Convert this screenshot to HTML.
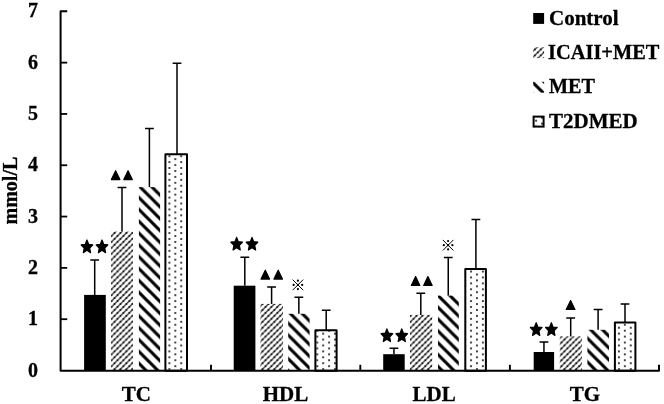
<!DOCTYPE html><html><head><meta charset="utf-8"><style>html,body{margin:0;padding:0;background:#fff;}svg{display:block;will-change:transform;}text{font-family:"Liberation Serif",serif;font-weight:bold;}</style></head><body>
<svg width="664" height="404" viewBox="0 0 664 404">
<defs>
<pattern id="pA" patternUnits="userSpaceOnUse" width="5.92" height="5.92" x="0" y="0" patternTransform="translate(2.075,2.075)"><path d="M-5.92,5.92 L5.92,-5.92 M0,11.84 L11.84,0 M0,5.92 L5.92,0" stroke="#000" stroke-width="1.1" fill="none"/><circle cx="0" cy="0" r="0.9" fill="#000"/><circle cx="5.92" cy="0" r="0.9" fill="#000"/><circle cx="0" cy="5.92" r="0.9" fill="#000"/><circle cx="5.92" cy="5.92" r="0.9" fill="#000"/><circle cx="2.96" cy="2.96" r="0.9" fill="#000"/></pattern>
<pattern id="pB" patternUnits="userSpaceOnUse" width="11.84" height="11.84" x="0" y="0" patternTransform="translate(0.5,0)"><path d="M-11.84,0 L11.84,23.68 M0,-11.84 L23.68,11.84 M0,0 L11.84,11.84" stroke="#000" stroke-width="3.0" fill="none"/></pattern>
<pattern id="pC" patternUnits="userSpaceOnUse" width="11.83" height="5.915" x="3.7800000000000047" y="2.4099999999999877"><circle cx="0" cy="0" r="0.95" fill="#000"/><circle cx="11.83" cy="0" r="0.95" fill="#000"/><circle cx="0" cy="5.915" r="0.95" fill="#000"/><circle cx="11.83" cy="5.915" r="0.95" fill="#000"/><circle cx="5.915" cy="2.9575" r="0.95" fill="#000"/></pattern>
</defs>
<rect x="84.10" y="294.90" width="21.70" height="75.95" fill="#000"/>
<rect x="111.10" y="231.60" width="21.80" height="139.25" fill="url(#pA)"/>
<rect x="138.90" y="187.10" width="21.20" height="183.75" fill="url(#pB)"/>
<rect x="165.40" y="154.20" width="21.6" height="216.65" fill="url(#pC)" stroke="#000" stroke-width="2" stroke-linejoin="round"/>
<rect x="233.70" y="285.70" width="21.70" height="85.15" fill="#000"/>
<rect x="260.50" y="303.90" width="22.50" height="66.95" fill="url(#pA)"/>
<rect x="288.20" y="313.80" width="21.40" height="57.05" fill="url(#pB)"/>
<rect x="315.40" y="330.20" width="21.2" height="40.65" fill="url(#pC)" stroke="#000" stroke-width="2" stroke-linejoin="round"/>
<rect x="383.20" y="354.20" width="21.50" height="16.65" fill="#000"/>
<rect x="410.00" y="314.90" width="22.20" height="55.95" fill="url(#pA)"/>
<rect x="438.00" y="295.60" width="20.80" height="75.25" fill="url(#pB)"/>
<rect x="465.30" y="268.90" width="20.6" height="101.95" fill="url(#pC)" stroke="#000" stroke-width="2" stroke-linejoin="round"/>
<rect x="533.70" y="352.00" width="20.40" height="18.85" fill="#000"/>
<rect x="559.80" y="336.40" width="22.10" height="34.45" fill="url(#pA)"/>
<rect x="587.40" y="329.80" width="21.60" height="41.05" fill="url(#pB)"/>
<rect x="614.90" y="322.50" width="20.5" height="48.35" fill="url(#pC)" stroke="#000" stroke-width="2" stroke-linejoin="round"/>
<path d="M94.70,294.90 V260.00 M90.30,260.00 H99.10" stroke="#000" stroke-width="1.5" fill="none"/>
<path d="M122.00,231.60 V187.50 M117.60,187.50 H126.40" stroke="#000" stroke-width="1.5" fill="none"/>
<path d="M149.40,187.10 V128.60 M145.00,128.60 H153.80" stroke="#000" stroke-width="1.5" fill="none"/>
<path d="M177.00,154.20 V63.30 M172.60,63.30 H181.40" stroke="#000" stroke-width="1.5" fill="none"/>
<path d="M244.80,285.70 V257.30 M240.40,257.30 H249.20" stroke="#000" stroke-width="1.5" fill="none"/>
<path d="M271.60,303.90 V287.00 M267.20,287.00 H276.00" stroke="#000" stroke-width="1.5" fill="none"/>
<path d="M298.85,313.80 V297.30 M294.45,297.30 H303.25" stroke="#000" stroke-width="1.5" fill="none"/>
<path d="M326.20,330.20 V310.20 M321.80,310.20 H330.60" stroke="#000" stroke-width="1.5" fill="none"/>
<path d="M393.95,354.20 V348.20 M389.55,348.20 H398.35" stroke="#000" stroke-width="1.5" fill="none"/>
<path d="M420.80,314.90 V293.20 M416.40,293.20 H425.20" stroke="#000" stroke-width="1.5" fill="none"/>
<path d="M448.25,295.60 V257.50 M443.85,257.50 H452.65" stroke="#000" stroke-width="1.5" fill="none"/>
<path d="M475.90,268.90 V219.50 M471.50,219.50 H480.30" stroke="#000" stroke-width="1.5" fill="none"/>
<path d="M543.95,352.00 V342.10 M539.55,342.10 H548.35" stroke="#000" stroke-width="1.5" fill="none"/>
<path d="M570.70,336.40 V318.00 M566.30,318.00 H575.10" stroke="#000" stroke-width="1.5" fill="none"/>
<path d="M598.10,329.80 V309.50 M593.70,309.50 H602.50" stroke="#000" stroke-width="1.5" fill="none"/>
<path d="M625.00,322.50 V304.00 M620.60,304.00 H629.40" stroke="#000" stroke-width="1.5" fill="none"/>
<path d="M67.2,11.3 H60.6 V370.85 H659 V364.8" stroke="#000" stroke-width="2.0" fill="none" stroke-linejoin="round"/>
<path d="M60.6,319.19 H67.2" stroke="#000" stroke-width="1.8"/>
<path d="M60.6,267.88 H67.2" stroke="#000" stroke-width="1.8"/>
<path d="M60.6,216.57 H67.2" stroke="#000" stroke-width="1.8"/>
<path d="M60.6,165.26 H67.2" stroke="#000" stroke-width="1.8"/>
<path d="M60.6,113.95 H67.2" stroke="#000" stroke-width="1.8"/>
<path d="M60.6,62.64 H67.2" stroke="#000" stroke-width="1.8"/>
<path d="M211.0,370.85 V364.8" stroke="#000" stroke-width="1.9"/>
<path d="M360.3,370.85 V364.8" stroke="#000" stroke-width="1.9"/>
<path d="M509.9,370.85 V364.8" stroke="#000" stroke-width="1.9"/>
<text x="38.0" y="377.30" font-size="20" text-anchor="end" stroke="#000" stroke-width="0.3">0</text>
<text x="38.0" y="325.44" font-size="20" text-anchor="end" stroke="#000" stroke-width="0.3">1</text>
<text x="38.0" y="273.68" font-size="20" text-anchor="end" stroke="#000" stroke-width="0.3">2</text>
<text x="38.0" y="222.67" font-size="20" text-anchor="end" stroke="#000" stroke-width="0.3">3</text>
<text x="38.0" y="170.91" font-size="20" text-anchor="end" stroke="#000" stroke-width="0.3">4</text>
<text x="38.0" y="119.75" font-size="20" text-anchor="end" stroke="#000" stroke-width="0.3">5</text>
<text x="38.0" y="69.14" font-size="20" text-anchor="end" stroke="#000" stroke-width="0.3">6</text>
<text x="38.0" y="16.88" font-size="20" text-anchor="end" stroke="#000" stroke-width="0.3">7</text>
<text transform="translate(17.4,190.6) rotate(-90)" font-size="20" text-anchor="middle" stroke="#000" stroke-width="0.3">mmol/L</text>
<text transform="translate(136.35,400.7) scale(1.05,1)" font-size="20" text-anchor="middle" stroke="#000" stroke-width="0.3">TC</text>
<text transform="translate(285.40,400.7) scale(1.05,1)" font-size="20" text-anchor="middle" stroke="#000" stroke-width="0.3">HDL</text>
<text transform="translate(434.20,400.7) scale(1.05,1)" font-size="20" text-anchor="middle" stroke="#000" stroke-width="0.3">LDL</text>
<text transform="translate(584.90,400.7) scale(1.05,1)" font-size="20" text-anchor="middle" stroke="#000" stroke-width="0.3">TG</text>
<g transform="translate(86.95,247.0) scale(0.88,1)"><polygon points="0.00,-6.90 1.91,-2.62 6.56,-2.13 3.08,1.00 4.06,5.58 0.00,3.24 -4.06,5.58 -3.08,1.00 -6.56,-2.13 -1.91,-2.62" fill="#000" stroke="#000" stroke-width="1.4" stroke-linejoin="round"/></g>
<g transform="translate(102.0,247.0) scale(0.88,1)"><polygon points="0.00,-6.90 1.91,-2.62 6.56,-2.13 3.08,1.00 4.06,5.58 0.00,3.24 -4.06,5.58 -3.08,1.00 -6.56,-2.13 -1.91,-2.62" fill="#000" stroke="#000" stroke-width="1.4" stroke-linejoin="round"/></g>
<g transform="translate(236.65,244.35) scale(0.88,1)"><polygon points="0.00,-6.90 1.91,-2.62 6.56,-2.13 3.08,1.00 4.06,5.58 0.00,3.24 -4.06,5.58 -3.08,1.00 -6.56,-2.13 -1.91,-2.62" fill="#000" stroke="#000" stroke-width="1.4" stroke-linejoin="round"/></g>
<g transform="translate(252.0,244.35) scale(0.88,1)"><polygon points="0.00,-6.90 1.91,-2.62 6.56,-2.13 3.08,1.00 4.06,5.58 0.00,3.24 -4.06,5.58 -3.08,1.00 -6.56,-2.13 -1.91,-2.62" fill="#000" stroke="#000" stroke-width="1.4" stroke-linejoin="round"/></g>
<g transform="translate(386.9,335.9) scale(0.88,1)"><polygon points="0.00,-6.90 1.91,-2.62 6.56,-2.13 3.08,1.00 4.06,5.58 0.00,3.24 -4.06,5.58 -3.08,1.00 -6.56,-2.13 -1.91,-2.62" fill="#000" stroke="#000" stroke-width="1.4" stroke-linejoin="round"/></g>
<g transform="translate(401.75,335.9) scale(0.88,1)"><polygon points="0.00,-6.90 1.91,-2.62 6.56,-2.13 3.08,1.00 4.06,5.58 0.00,3.24 -4.06,5.58 -3.08,1.00 -6.56,-2.13 -1.91,-2.62" fill="#000" stroke="#000" stroke-width="1.4" stroke-linejoin="round"/></g>
<g transform="translate(536.2,329.7) scale(0.88,1)"><polygon points="0.00,-6.90 1.91,-2.62 6.56,-2.13 3.08,1.00 4.06,5.58 0.00,3.24 -4.06,5.58 -3.08,1.00 -6.56,-2.13 -1.91,-2.62" fill="#000" stroke="#000" stroke-width="1.4" stroke-linejoin="round"/></g>
<g transform="translate(551.35,329.7) scale(0.88,1)"><polygon points="0.00,-6.90 1.91,-2.62 6.56,-2.13 3.08,1.00 4.06,5.58 0.00,3.24 -4.06,5.58 -3.08,1.00 -6.56,-2.13 -1.91,-2.62" fill="#000" stroke="#000" stroke-width="1.4" stroke-linejoin="round"/></g>
<polygon points="111.40,179.60 119.90,179.60 115.65,170.70" fill="#000" stroke="#000" stroke-width="1.2" stroke-linejoin="round"/>
<polygon points="123.80,179.60 132.30,179.60 128.05,170.70" fill="#000" stroke="#000" stroke-width="1.2" stroke-linejoin="round"/>
<polygon points="261.05,279.10 269.55,279.10 265.30,270.20" fill="#000" stroke="#000" stroke-width="1.2" stroke-linejoin="round"/>
<polygon points="273.95,279.10 282.45,279.10 278.20,270.20" fill="#000" stroke="#000" stroke-width="1.2" stroke-linejoin="round"/>
<polygon points="411.35,285.50 419.85,285.50 415.60,276.60" fill="#000" stroke="#000" stroke-width="1.2" stroke-linejoin="round"/>
<polygon points="423.65,285.50 432.15,285.50 427.90,276.60" fill="#000" stroke="#000" stroke-width="1.2" stroke-linejoin="round"/>
<polygon points="566.25,309.50 574.95,309.50 570.60,300.60" fill="#000" stroke="#000" stroke-width="1.2" stroke-linejoin="round"/>
<path d="M292.59999999999997,279.59999999999997 L303.2,290.2 M303.2,279.59999999999997 L292.59999999999997,290.2" stroke="#000" stroke-width="1.0"/><circle cx="297.9" cy="280.7" r="1.1" fill="#000"/><circle cx="297.9" cy="289.09999999999997" r="1.1" fill="#000"/><circle cx="293.59999999999997" cy="284.9" r="1.1" fill="#000"/><circle cx="302.2" cy="284.9" r="1.1" fill="#000"/><circle cx="297.9" cy="284.9" r="1.1" fill="#000"/>
<path d="M442.8,239.89999999999998 L453.40000000000003,250.5 M453.40000000000003,239.89999999999998 L442.8,250.5" stroke="#000" stroke-width="1.0"/><circle cx="448.1" cy="241.0" r="1.1" fill="#000"/><circle cx="448.1" cy="249.39999999999998" r="1.1" fill="#000"/><circle cx="443.8" cy="245.2" r="1.1" fill="#000"/><circle cx="452.40000000000003" cy="245.2" r="1.1" fill="#000"/><circle cx="448.1" cy="245.2" r="1.1" fill="#000"/>
<rect x="533.2" y="13.0" width="10.9" height="10.9" fill="#000"/>
<rect x="533.2" y="47.2" width="10.9" height="10.9" fill="url(#pA)"/>
<rect x="533.2" y="81.8" width="10.9" height="10.9" fill="url(#pB)"/>
<rect x="533.6" y="116.6" width="10" height="10" fill="url(#pC)" stroke="#000" stroke-width="2"/>
<text transform="translate(549.0,24.50) scale(1.05,1)" font-size="20" stroke="#000" stroke-width="0.3">Control</text>
<text transform="translate(548.1,58.70) scale(1.02,1)" font-size="20" stroke="#000" stroke-width="0.3">ICAII+MET</text>
<text transform="translate(549.0,93.30) scale(1.01,1)" font-size="20" stroke="#000" stroke-width="0.3">MET</text>
<text transform="translate(549.0,127.50) scale(1.05,1)" font-size="20" stroke="#000" stroke-width="0.3">T2DMED</text>
</svg></body></html>
